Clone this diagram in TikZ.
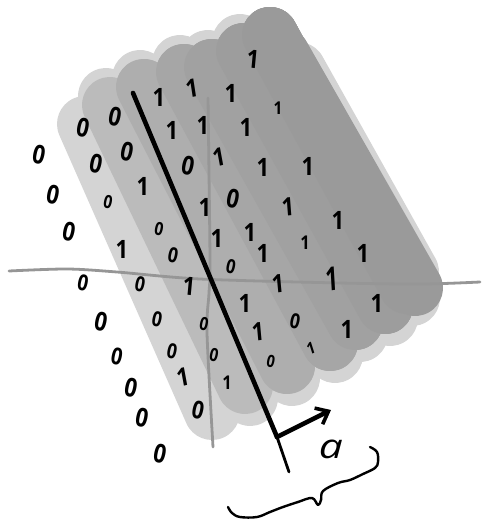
\documentclass[tikz,border=0pt]{standalone}
\usepackage{fontspec}
\setmainfont{Open Sans}
\usetikzlibrary{arrows.meta}

\definecolor{levela}{HTML}{D4D4D4}
\definecolor{levelb}{HTML}{BBBBBB}
\definecolor{levelc}{HTML}{AEAEAE}
\definecolor{leveld}{HTML}{A6A6A6}
\definecolor{levele}{HTML}{A1A1A1}
\definecolor{levelf}{HTML}{9D9D9D}
\definecolor{levelg}{HTML}{9A9A9A}

\begin{document}
\begin{tikzpicture}[
  x=1pt,y=-1pt,
  band/.style={line width=56pt,line join=round,line cap=round},
  axis/.style={draw=black!41,line width=2.8pt,line cap=round},
  zero/.style={inner sep=0pt,rotate=-12,xscale=.85,font=\fontsize{26}{26}\selectfont\bfseries},
  one/.style={inner sep=0pt,yscale=1.15,font=\fontsize{22}{22}\selectfont\bfseries},
  ink/.style={line cap=round,line join=round,draw=black}
  ]

  \useasboundingbox (0,0) rectangle (481,521);

  % brush strokes, outer ends
  \coordinate (ta) at (85,124);
  \coordinate (tb) at (106,96);
  \coordinate (tc) at (140,78);
  \coordinate (td) at (180,63);
  \coordinate (te) at (208,58);
  \coordinate (tf) at (240,42);
  \coordinate (tg) at (270,35);
  \coordinate (th) at (298,70);
  \coordinate (ba) at (212,412);
  \coordinate (bb) at (250,398);
  \coordinate (bc) at (292,378);
  \coordinate (bd) at (335,355);
  \coordinate (be) at (360,334);
  \coordinate (bf) at (390,318);
  \coordinate (bg) at (412,298);
  \coordinate (bh) at (411,272);
  % and the ends of the darker coats
  \coordinate (ub) at (110,105);
  \coordinate (uc) at (144,87);
  \coordinate (ud) at (184,72);
  \coordinate (ue) at (212,67);
  \coordinate (uf) at (244,51);
  \coordinate (ug) at (270,35);
  \coordinate (ui) at (282,55);
  \coordinate (vb) at (245,386);
  \coordinate (vc) at (287,366);
  \coordinate (vd) at (330,343);
  \coordinate (ve) at (355,322);
  \coordinate (vf) at (385,306);
  \coordinate (vg) at (407,286);
  \coordinate (vi) at (415,288);

  \draw [band,levela] (ta) -- (ba) (tb) -- (bb) (tc) -- (bc) (td) -- (bd) (te) -- (be) (tf) -- (bf) (tg) -- (bg) (th) -- (bh);
  \draw [band,levelb] (ub) -- (vb) (uc) -- (vc) (ud) -- (vd) (ue) -- (ve) (uf) -- (vf) (ug) -- (vg);
  \draw [band,levelc] (uc) -- (vc) (ud) -- (vd) (ue) -- (ve) (uf) -- (vf) (ug) -- (vg);
  \draw [band,leveld] (ud) -- (vd) (ue) -- (ve) (uf) -- (vf) (ug) -- (vg);
  \draw [band,levele] (ue) -- (ve) (uf) -- (vf) (ug) -- (vg);
  \draw [band,levelf] (uf) -- (vf) (ug) -- (vg);
  \draw [band,levelg] (ug) -- (vg) (ui) -- (vi);

  % axes
  \draw [axis] plot [smooth] coordinates {(9,271) (67,269) (117,272) (200,279) (340,283) (423,284) (480,282)};
  \draw [axis] plot [smooth] coordinates {(208,98) (210,260) (209,293) (207,333) (213,447)};

  % zeros
  \node (za) [zero] at (39,155) {0};
  \node (zb) [zero] at (53,195) {0};
  \node (zc) [zero] at (69,232) {0};
  \node (zd) [zero,scale=.85] at (83,283) {0};
  \node (ze) [zero] at (101,322) {0};
  \node (zf) [zero,scale=.9] at (117,356) {0};
  \node (zg) [zero] at (131,388) {0};
  \node (zh) [zero] at (142,418) {0};
  \node (zi) [zero] at (160,454) {0};
  \node (zj) [zero] at (83,128) {0};
  \node (zk) [zero] at (115,117) {0};
  \node (zl) [zero] at (96,164) {0};
  \node (zm) [zero] at (127,152) {0};
  \node (zn) [zero,scale=.7] at (108,202) {0};
  \node (zo) [zero] at (188,166) {0};
  \node (zp) [zero,scale=.7] at (159,229) {0};
  \node (zq) [zero,scale=.8] at (173,255) {0};
  \node (zr) [zero] at (233,199) {0};
  \node (zs) [zero,scale=.8] at (140,284) {0};
  \node (zt) [zero,scale=.75] at (231,267) {0};
  \node (zu) [zero,scale=.8] at (157,319) {0};
  \node (zv) [zero,scale=.7] at (204,324) {0};
  \node (zw) [zero,scale=.8] at (172,351) {0};
  \node (zx) [zero,scale=.7] at (214,355) {0};
  \node (zy) [zero,scale=.95] at (198,410) {0};
  \node (zz) [zero,scale=.8] at (295,321) {0};
  \node (zaa) [zero,scale=.65] at (271,361) {0};

  % ones
  \node (oa) [one] at (159,97) {1};
  \node (ob) [one,rotate=10] at (192,88) {1};
  \node (oc) [one] at (231,93) {1};
  \node (od) [one] at (172,130) {1};
  \node (oe) [one] at (203,125) {1};
  \node (of) [one,rotate=12] at (219,157) {1};
  \node (og) [one] at (143,186) {1};
  \node (oh) [one] at (205,207) {1};
  \node (oi) [one] at (217,238) {1};
  \node (oj) [one] at (122,249) {1};
  \node (ok) [one,rotate=-6] at (253,59) {1};
  \node (ol) [one,scale=.7] at (278,108) {1};
  \node (om) [one] at (246,127) {1};
  \node (on) [one] at (263,167) {1};
  \node (oo) [one] at (308,166) {1};
  \node (op) [one,rotate=5] at (288,207) {1};
  \node (oq) [one] at (338,220) {1};
  \node (or) [one] at (250,232) {1};
  \node (os) [one,scale=.75] at (305,243) {1};
  \node (ot) [one] at (263,253) {1};
  \node (ou) [one] at (363,253) {1};
  \node (ov) [one,rotate=-6] at (189,286) {1};
  \node (ow) [one,rotate=12] at (183,377) {1};
  \node (ox) [one,scale=.75] at (227,383) {1};
  \node (oy) [one,rotate=6] at (278,284) {1};
  \node (oz) [one,yscale=1.3,rotate=5] at (332,279) {1};
  \node (oaa) [one] at (377,303) {1};
  \node (oab) [one] at (245,303) {1};
  \node (oac) [one,rotate=6] at (258,332) {1};
  \node (oad) [one] at (347,329) {1};
  \node (oae) [one,scale=.65,rotate=20] at (311,348) {1};

  % separator, normal and its label
  \coordinate (septop) at (133,93);
  \coordinate (sepmid) at (277,437);
  \coordinate (sepend) at (289,472);
  \coordinate (tip) at (331,410);
  \draw [ink,line width=4.6pt] (septop) -- (sepmid);
  \draw [ink,line width=2.8pt] (sepmid) -- (sepend);
  \draw [ink,line width=4.6pt,-{Straight Barb[length=11pt,width=18pt,line width=3.6pt]}] (sepmid) -- (tip);
  \node (lbl) [inner sep=0pt,xscale=1.25,font=\fontsize{34}{34}\selectfont\itshape] at (331,449) {a};

  % brace
  \draw [ink,line width=2.4pt] plot [smooth,tension=.6] coordinates {(370,447) (377,452) (378,462) (375,468) (363,474) (350,480) (338,483) (323,491) (321,500) (318,505) (312,498) (298,502) (283,507) (270,512) (257,517) (240,517) (232,513) (228,507)};
\end{tikzpicture}
\end{document}
